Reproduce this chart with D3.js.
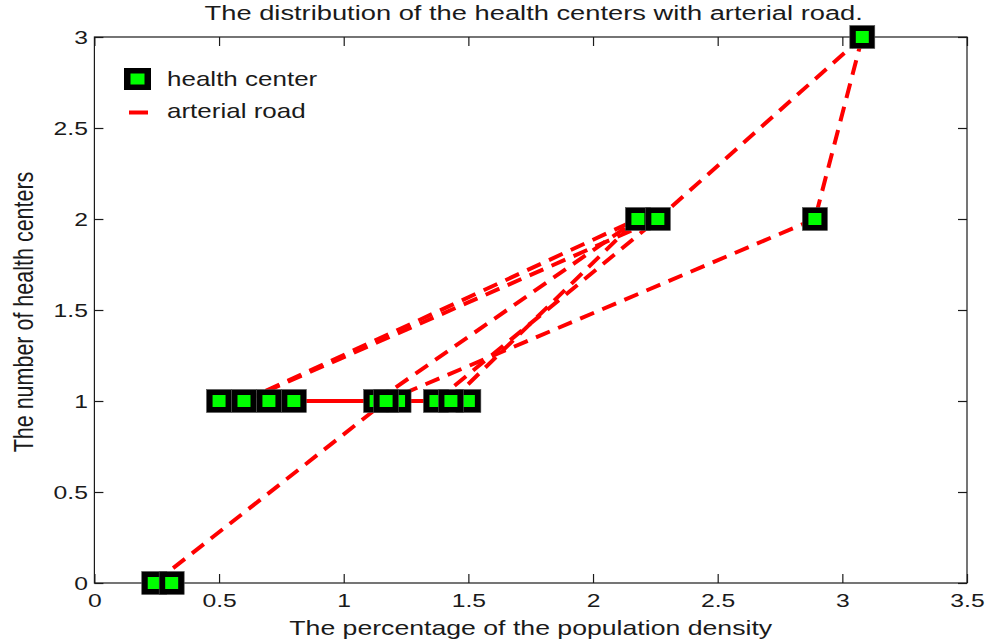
<!DOCTYPE html>
<html><head><meta charset="utf-8">
<script src="https://cdn.jsdelivr.net/npm/d3@7/dist/d3.min.js"></script>
<style>body{margin:0;background:#fff} svg{display:block}</style>
</head><body>
<svg id="c" width="991" height="643"></svg>
<script>
// ---- data ----
const centerX = [0.24, 0.31, 0.5, 0.6, 0.7, 0.8, 1.13, 1.22, 1.17, 1.37, 1.5, 1.43, 2.18, 2.26, 2.89, 3.08];
const centerY = [0,    0,    1,   1,   1,   1,   1,    1,    1,    1,    1,   1,    2,    2,    2,    3];
const roadFrom = [0, 3,  3,  6,  9,  11, 14, 15, 15, 5, 7];
const roadTo   = [8, 12, 13, 12, 13, 12, 8,  13, 14, 6, 9];
const xTicks = [0, 0.5, 1, 1.5, 2, 2.5, 3, 3.5];
const xTickLabels = ["0", "0.5", "1", "1.5", "2", "2.5", "3", "3.5"];
const yTicks = [0, 0.5, 1, 1.5, 2, 2.5, 3];
const yTickLabels = ["0", "0.5", "1", "1.5", "2", "2.5", "3"];
const titleText = "The distribution of the health centers with arterial road.";
const xLabelText = "The percentage of the population density";
const yLabelText = "The number of health centers";
const legendLabels = ["health center", "arterial road"];

// ---- layout ----
const FONT = "'Liberation Sans', Arial, Helvetica, sans-serif";
const TXT = "#1a1a1a";
const SX = 1.3;
const plot = {left: 94.4, right: 967, top: 37, bottom: 583};
const x = d3.scaleLinear().domain([0, 3.5]).range([plot.left, plot.right]);
const y = d3.scaleLinear().domain([0, 3]).range([plot.bottom, plot.top]);
const svg = d3.select('#c');

// roads
const roads = roadFrom.map((f, i) => ({a: f, b: roadTo[i]}));
svg.append('g').selectAll('line').data(roads).join('line')
  .attr('x1', d => x(centerX[d.a])).attr('y1', d => y(centerY[d.a]))
  .attr('x2', d => x(centerX[d.b])).attr('y2', d => y(centerY[d.b]))
  .attr('stroke', '#ff0000').attr('stroke-width', 4)
  .attr('stroke-dasharray', d => centerY[d.a] === centerY[d.b] ? null : '15,9');

// axes box
svg.append('rect').attr('x', plot.left).attr('y', plot.top)
  .attr('width', plot.right - plot.left).attr('height', plot.bottom - plot.top)
  .attr('fill', 'none').attr('stroke', TXT).attr('stroke-width', 1.2);

function styleAxis(g) {
  g.select('.domain').remove();
  g.selectAll('.tick line').attr('stroke', TXT).attr('stroke-width', 1.2);
  g.selectAll('.tick text').attr('fill', TXT).style('font-family', FONT).style('font-size', '19px');
}
const gB = svg.append('g').attr('transform', `translate(0,${plot.bottom})`)
  .call(d3.axisBottom(x).tickValues(xTicks).tickFormat((d, i) => xTickLabels[i])
    .tickSizeInner(-9).tickSizeOuter(0).tickPadding(11));
styleAxis(gB);
gB.selectAll('.tick text').attr('transform', `scale(${SX},1)`);

const gL = svg.append('g').attr('transform', `translate(${plot.left},0)`)
  .call(d3.axisLeft(y).tickValues(yTicks).tickFormat((d, i) => yTickLabels[i])
    .tickSizeInner(-9).tickSizeOuter(0).tickPadding(5));
styleAxis(gL);
gL.selectAll('.tick text').attr('transform', `scale(${SX},1)`);

const gT = svg.append('g').attr('transform', `translate(0,${plot.top})`)
  .call(d3.axisTop(x).tickValues(xTicks).tickFormat('').tickSizeInner(-9).tickSizeOuter(0));
styleAxis(gT);
const gR = svg.append('g').attr('transform', `translate(${plot.right},0)`)
  .call(d3.axisRight(y).tickValues(yTicks).tickFormat('').tickSizeInner(-9).tickSizeOuter(0));
styleAxis(gR);

// markers
const MW = 25, MH = 23, IW = 13, IH = 12;
const nodes = centerX.map((v, i) => ({x: v, y: centerY[i]}));
const gm = svg.append('g').selectAll('g').data(nodes).join('g')
  .attr('transform', d => `translate(${x(d.x)},${y(d.y)})`);
gm.append('rect').attr('x', -MW / 2).attr('y', -MH / 2).attr('width', MW).attr('height', MH)
  .attr('fill', '#000').attr('stroke', '#555').attr('stroke-width', 0.6);
gm.append('rect').attr('x', -IW / 2).attr('y', -IH / 2).attr('width', IW).attr('height', IH)
  .attr('fill', '#00ff00');

// text helper
function stext(tx, ty, str, size, anchor, extra) {
  return svg.append('text')
    .attr('transform', `translate(${tx},${ty}) scale(${SX},1)` + (extra || ''))
    .attr('text-anchor', anchor).attr('fill', TXT)
    .style('font-family', FONT).style('font-size', size + 'px').text(str);
}
stext((plot.left + plot.right) / 2 + 3, 20, titleText, 21, 'middle');
stext((plot.left + plot.right) / 2, 635, xLabelText, 20.5, 'middle');
stext(33, 312, yLabelText, 21.5, 'middle', ' rotate(-90)');

// legend
const lg = svg.append('g');
lg.append('rect').attr('x', 124).attr('y', 68).attr('width', 27).attr('height', 22).attr('fill', '#000');
lg.append('rect').attr('x', 130.5).attr('y', 73.5).attr('width', 14).attr('height', 11).attr('fill', '#00ff00');
lg.append('line').attr('x1', 129).attr('x2', 148).attr('y1', 112.5).attr('y2', 112.5)
  .attr('stroke', '#ff0000').attr('stroke-width', 4);
stext(167, 86, legendLabels[0], 20, 'start');
stext(167, 118, legendLabels[1], 20, 'start');
</script>
</body></html>
